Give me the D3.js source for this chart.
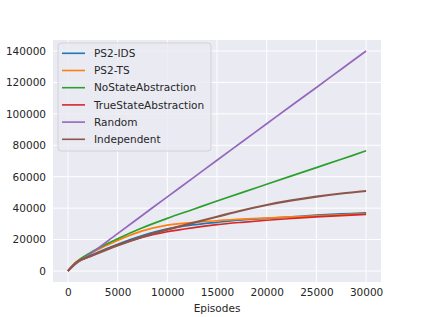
<!DOCTYPE html>
<html><head><meta charset="utf-8">
<script src="https://cdn.jsdelivr.net/npm/d3@7"></script>
<style>body{margin:0;background:#fff}svg{display:block}</style>
</head><body>
<svg id="c" width="423" height="317"></svg>
<script>
const episodes = [0,1000,2500,5000,7500,10000,12500,15000,17500,20000,22500,25000,27500,30000];
const ps2IDS   = [0,6000,10500,17000,22500,26800,29300,31000,32500,33500,34500,35500,36300,37000];
const ps2TS    = [0,6500,12000,19500,25500,29200,30800,32000,33000,33700,34400,35100,35800,36300];
const noState  = [0,6500,12500,20500,27500,33500,39000,44500,49900,55200,60500,65800,71100,76500];
const trueState= [0,6000,10000,16500,21500,25000,27500,29500,31000,32300,33400,34400,35200,36000];
const random   = [0,5500,12000,23800,35500,47200,58800,70500,82100,93700,105300,116800,128400,140000];
const independent=[0,6000,10000,16300,21700,26300,30500,34500,38500,42000,44900,47300,49300,50900];
const seriesNames = ["PS2-IDS","PS2-TS","NoStateAbstraction","TrueStateAbstraction","Random","Independent"];
const seriesValues = [ps2IDS, ps2TS, noState, trueState, random, independent];
const colors = ["#1f77b4","#ff7f0e","#2ca02c","#d62728","#9467bd","#8c564b"];
const xTicks = [0,5000,10000,15000,20000,25000,30000];
const yTicks = [0,20000,40000,60000,80000,100000,120000,140000];

const svg = d3.select("#c");
const L=53, R=381, T=40, B=282;
const x = d3.scaleLinear().domain([-1500,31500]).range([L,R]);
const y = d3.scaleLinear().domain([-7000,147000]).range([B,T]);

svg.append("rect").attr("x",L).attr("y",T).attr("width",R-L).attr("height",B-T).attr("fill","#EAEAF2");
const g = svg.append("g");
g.selectAll(".gx").data(xTicks).join("line").attr("x1",d=>x(d)).attr("x2",d=>x(d)).attr("y1",T).attr("y2",B).attr("stroke","#fff").attr("stroke-width",1);
g.selectAll(".gy").data(yTicks).join("line").attr("y1",d=>y(d)).attr("y2",d=>y(d)).attr("x1",L).attr("x2",R).attr("stroke","#fff").attr("stroke-width",1);

const xAxis = svg.append("g").attr("transform",`translate(0,${B})`).call(d3.axisBottom(x).tickValues(xTicks).tickSize(0).tickPadding(7).tickFormat(d3.format("d")));
const yAxis = svg.append("g").attr("transform",`translate(${L},0)`).call(d3.axisLeft(y).tickValues(yTicks).tickSize(0).tickPadding(7).tickFormat(d3.format("d")));
[xAxis,yAxis].forEach(a=>{a.select(".domain").remove();a.selectAll("text").attr("fill","#262626").style("font-family","DejaVu Sans").style("font-size","10.5px");});

svg.append("text").attr("x",(L+R)/2).attr("y",312).attr("text-anchor","middle").attr("fill","#262626").style("font-family","DejaVu Sans").style("font-size","10.5px").text("Episodes");

const line = d3.line().x((d,i)=>x(episodes[i])).y(d=>y(d)).curve(d3.curveCatmullRom.alpha(0.5));
seriesValues.forEach((vals,i)=>{
  svg.append("path").attr("d",line(vals)).attr("fill","none").attr("stroke",colors[i]).attr("stroke-width",i===5?2.2:1.7);
});

// legend
const lg = svg.append("g");
lg.append("rect").attr("x",58).attr("y",43).attr("width",153).attr("height",108).attr("rx",3).attr("fill","#EAEAF2").attr("fill-opacity",0.8).attr("stroke","#cccccc").attr("stroke-width",0.8);
seriesNames.forEach((n,i)=>{
  const yy = 53.3 + i*17.2;
  lg.append("line").attr("x1",62).attr("x2",85).attr("y1",yy).attr("y2",yy).attr("stroke",colors[i]).attr("stroke-width",1.6);
  lg.append("text").attr("x",94).attr("y",yy).attr("dy","0.35em").attr("fill","#262626").style("font-family","DejaVu Sans").style("font-size","10.5px").text(n);
});
</script>
</body></html>
